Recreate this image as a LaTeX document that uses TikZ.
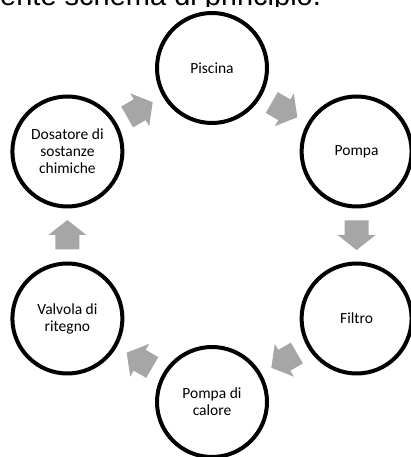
\documentclass[tikz,border=0pt]{standalone}
\usepackage{fontspec}
\setmainfont{Carlito}
\newfontfamily\titlefont{Liberation Sans}
\usetikzlibrary{calc}
\definecolor{arrowgray}{HTML}{A6A6A6}

\begin{document}
\begin{tikzpicture}[x=1pt,y=1pt,
 stage/.style={draw,circle,line width=4pt,minimum size=110pt,inner sep=0pt,align=center,
  font=\fontsize{15.5}{17}\selectfont},
 cyclearrow/.pic={\fill[arrowgray] (-14.5,-12) -- (0,-12) -- (0,-19) -- (15,0) -- (0,19) -- (0,12) -- (-14.5,12) -- cycle;}]
\useasboundingbox (0,0) rectangle (411,457);
\begin{scope}
\clip (0,450.5) rectangle (411,457);
\node[anchor=base west,inner sep=0pt,font=\titlefont\fontsize{29}{34}\selectfont] (title) at (0,451) {ente schema di principio.};
\end{scope}
\node[stage] (pis) at (212,389) {Piscina};
\node[stage] (pom) at (356.6,305.5) {Pompa};
\node[stage] (fil) at (356.6,138.5) {Filtro};
\node[stage] (cal) at (212,55) {Pompa di\\calore};
\node[stage] (val) at (67.4,138.5) {Valvola di\\ritegno};
\node[stage] (dos) at (67.4,305.5) {Dosatore di\\sostanze\\chimiche};
\pic[rotate=-30] at ($(pis)!.5!(pom)$) {cyclearrow};
\pic[rotate=-90] at ($(pom)!.5!(fil)$) {cyclearrow};
\pic[rotate=-150] at ($(fil)!.5!(cal)$) {cyclearrow};
\pic[rotate=150] at ($(cal)!.5!(val)$) {cyclearrow};
\pic[rotate=90] at ($(val)!.5!(dos)$) {cyclearrow};
\pic[rotate=30] at ($(dos)!.5!(pis)$) {cyclearrow};
\end{tikzpicture}
\end{document}
